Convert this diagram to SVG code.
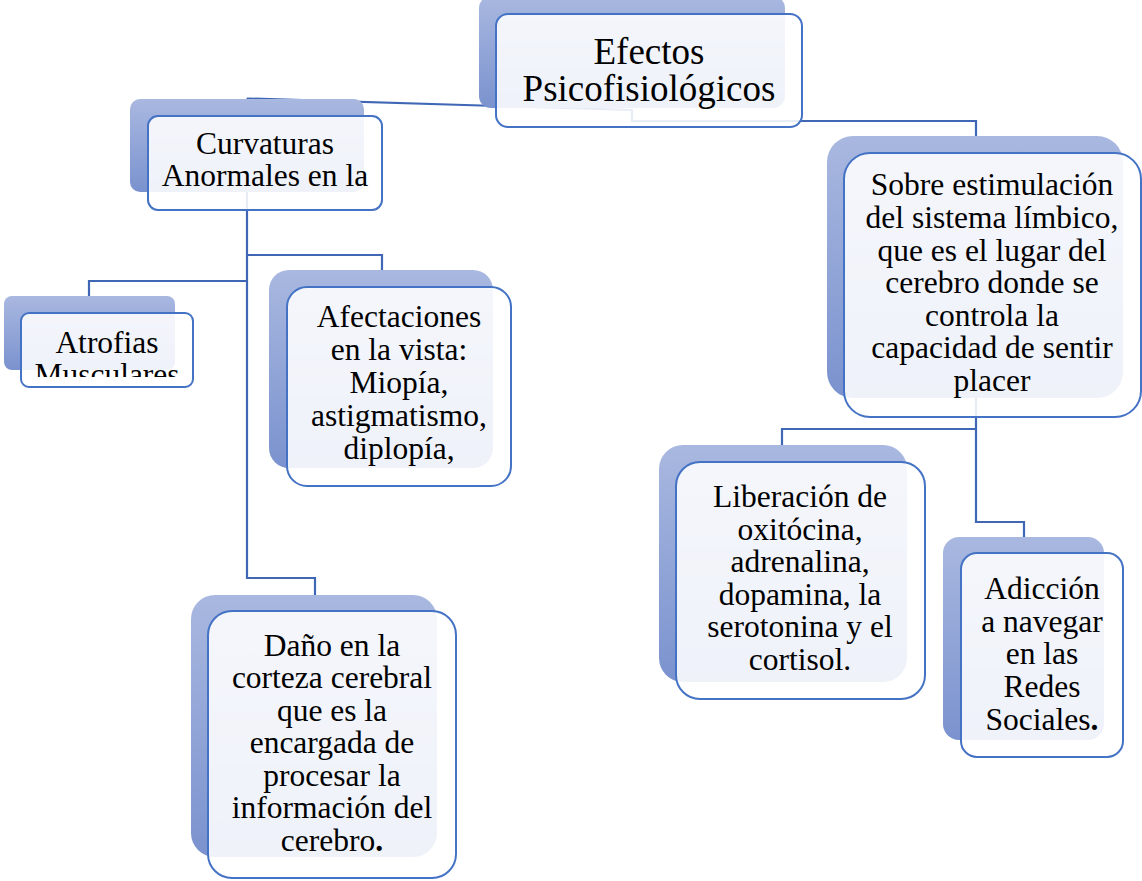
<svg xmlns="http://www.w3.org/2000/svg" width="1142" height="881" viewBox="0 0 1142 881">
<defs>
<linearGradient id="g" x1="0" y1="0" x2="0" y2="1">
<stop offset="0" stop-color="#a9b8e0"/>
<stop offset="1" stop-color="#7a92ce"/>
</linearGradient>
<clipPath id="clipAtr"><rect x="0" y="300" width="200" height="77"/></clipPath>
<clipPath id="clipAfe"><rect x="270" y="280" width="240" height="190"/></clipPath>
<style>
.bk{fill:url(#g);}
.fr{fill:#ffffff;fill-opacity:0.88;stroke:#4472c4;stroke-width:2;}
.cn{fill:none;stroke:#3f67b5;stroke-width:2.2;}
.t{font-family:"Liberation Serif","Times New Roman",serif;font-size:31.5px;fill:#000;text-anchor:middle;}
.tb{font-size:37px;}
</style>
</defs>
<rect width="1142" height="881" fill="#ffffff"/>
<g id="connectors">
<path class="cn" d="M247,98.5 L481,105.5 L632,110 L632,121 L976,121 L976,137"/>
<path class="cn" d="M247,98.5 L247,578 L315,578 L315,595"/>
<path class="cn" d="M247,255 L382,255 L382,270"/>
<path class="cn" d="M247,281 L89,281 L89,296"/>
<path class="cn" d="M976,380 L976,522 L1024,522 L1024,537"/>
<path class="cn" d="M976,429 L782,429 L782,445"/>
</g>
<g id="n-efectos">
<rect class="bk" x="479" y="-4" width="306" height="112" rx="12"/>
<rect class="fr" x="496" y="14" width="306" height="113" rx="12"/>
<text class="t tb"><tspan x="649" y="64">Efectos</tspan><tspan x="649" y="101">Psicofisiológicos</tspan></text>
</g>
<g id="n-curvaturas">
<rect class="bk" x="130" y="99" width="234" height="93" rx="10"/>
<rect class="fr" x="148" y="116" width="234" height="94" rx="10"/>
<text class="t"><tspan x="265" y="154">Curvaturas</tspan><tspan x="265" y="186">Anormales en la</tspan></text>
</g>
<g id="n-atrofias">
<rect class="bk" x="4" y="296" width="171" height="74" rx="8"/>
<rect class="fr" x="21" y="313" width="172" height="74" rx="8"/>
<g clip-path="url(#clipAtr)"><text class="t"><tspan x="107" y="353">Atrofias</tspan><tspan x="107" y="385">Musculares</tspan></text></g>
</g>
<g id="n-afectaciones">
<rect class="bk" x="269" y="270" width="224" height="198" rx="20"/>
<rect class="fr" x="287" y="287" width="224" height="199" rx="20"/>
<g clip-path="url(#clipAfe)"><text class="t"><tspan x="399" y="327">Afectaciones</tspan><tspan x="399" y="360">en la vista:</tspan><tspan x="399" y="393">Miopía,</tspan><tspan x="399" y="426">astigmatismo,</tspan><tspan x="399" y="459">diplopía,</tspan></text></g>
</g>
<g id="n-dano">
<rect class="bk" x="191" y="595" width="246" height="262" rx="24"/>
<rect class="fr" x="208" y="611" width="248" height="267" rx="24"/>
<text class="t"><tspan x="332" y="656">Daño en la</tspan><tspan x="332" y="688">corteza cerebral</tspan><tspan x="332" y="721">que es la</tspan><tspan x="332" y="753">encargada de</tspan><tspan x="332" y="786">procesar la</tspan><tspan x="332" y="818">información del</tspan><tspan x="332" y="851">cerebro<tspan font-weight="bold">.</tspan></tspan></text>
</g>
<g id="n-sobre">
<rect class="bk" x="827" y="136" width="296" height="262" rx="26"/>
<rect class="fr" x="844" y="153" width="297" height="264" rx="26"/>
<text class="t"><tspan x="992" y="195">Sobre estimulación</tspan><tspan x="992" y="228">del sistema límbico,</tspan><tspan x="992" y="261">que es el lugar del</tspan><tspan x="992" y="293">cerebro donde se</tspan><tspan x="992" y="326">controla la</tspan><tspan x="992" y="358">capacidad de sentir</tspan><tspan x="992" y="391">placer</tspan></text>
</g>
<g id="n-liberacion">
<rect class="bk" x="659" y="445" width="248" height="237" rx="24"/>
<rect class="fr" x="676" y="462" width="249" height="237" rx="24"/>
<text class="t"><tspan x="800" y="507">Liberación de</tspan><tspan x="800" y="540">oxitócina,</tspan><tspan x="800" y="572">adrenalina,</tspan><tspan x="800" y="605">dopamina, la</tspan><tspan x="800" y="637">serotonina y el</tspan><tspan x="800" y="670">cortisol.</tspan></text>
</g>
<g id="n-adiccion">
<rect class="bk" x="943" y="537" width="161" height="203" rx="16"/>
<rect class="fr" x="961" y="553" width="162" height="204" rx="16"/>
<text class="t"><tspan x="1042" y="599">Adicción</tspan><tspan x="1042" y="632">a navegar</tspan><tspan x="1042" y="664">en las</tspan><tspan x="1042" y="697">Redes</tspan><tspan x="1042" y="730">Sociales<tspan font-weight="bold">.</tspan></tspan></text>
</g>
</svg>
